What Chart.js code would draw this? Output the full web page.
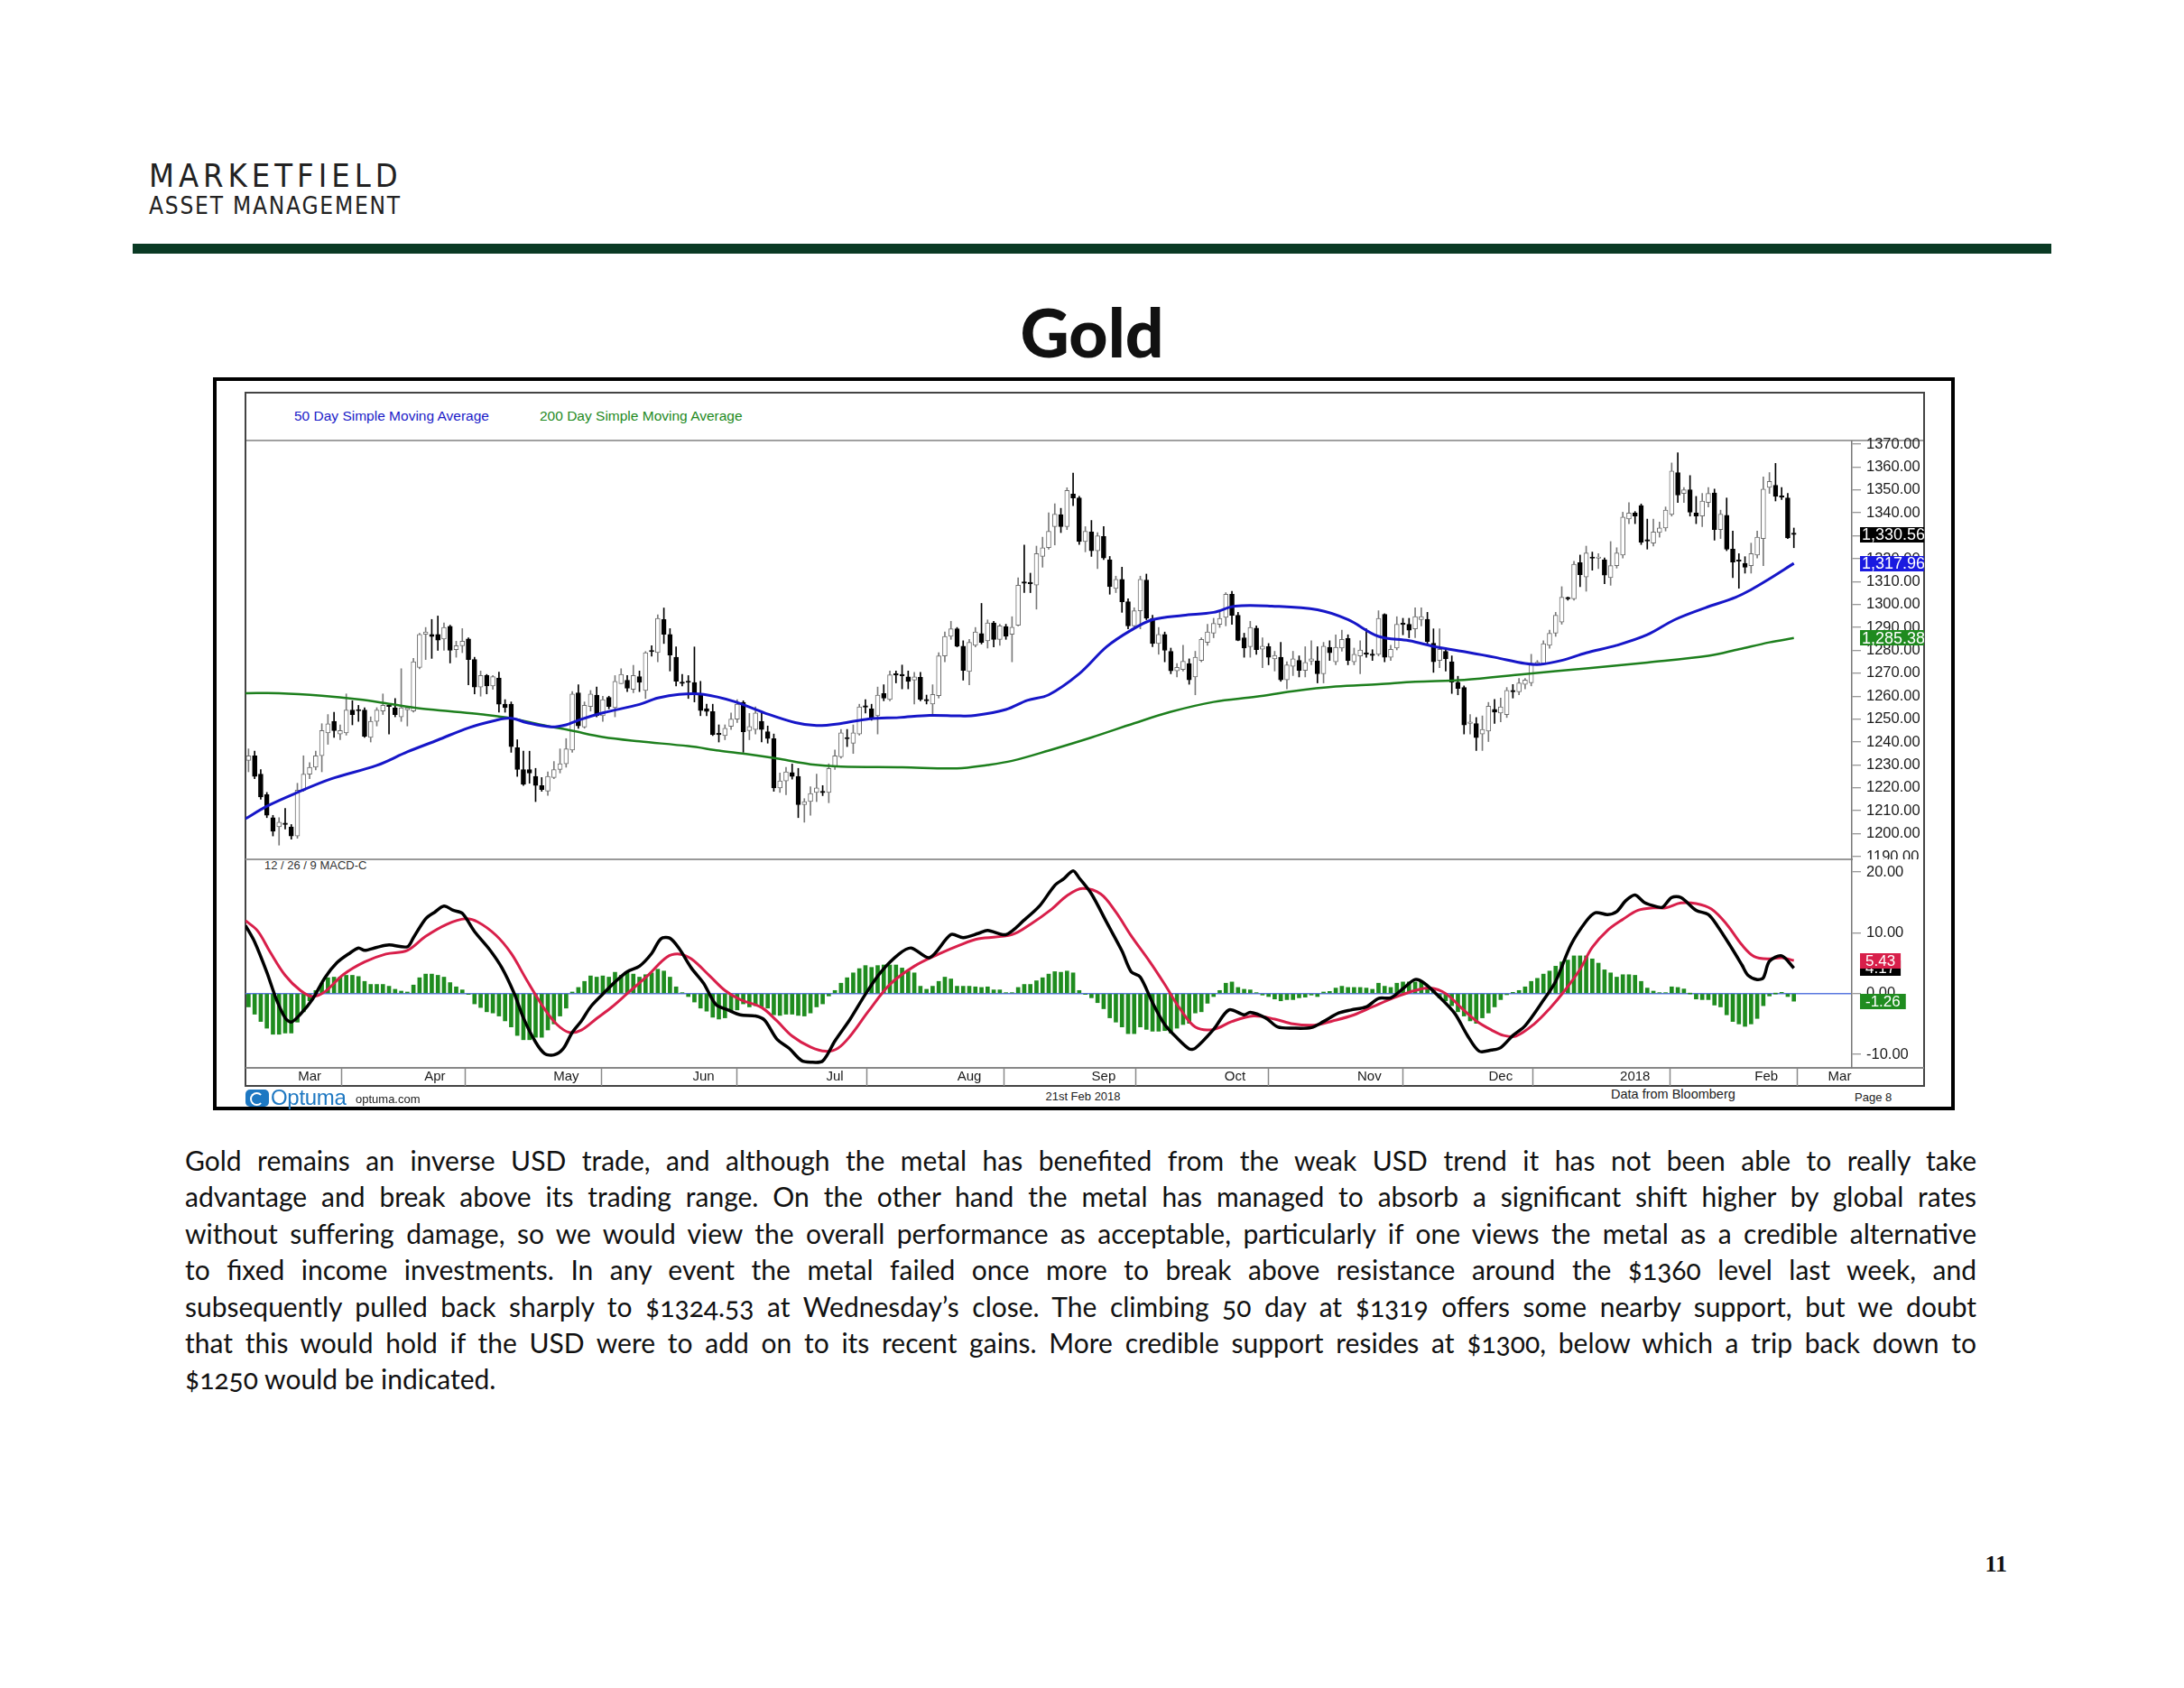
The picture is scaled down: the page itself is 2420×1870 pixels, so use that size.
<!DOCTYPE html>
<html>
<head>
<meta charset="utf-8">
<script src="https://cdn.jsdelivr.net/npm/chart.js@4.4.1/dist/chart.umd.min.js"></script>
<style>
  html, body { margin: 0; padding: 0; background: #fff; }
  body { width: 2420px; height: 1870px; position: relative; overflow: hidden; font-family: 'Liberation Sans', Arial, sans-serif; color: #111; }
  .abs { position: absolute; }
  .brand { left: 165px; top: 177px; font-family: 'Liberation Sans Narrow', 'DejaVu Sans Condensed', sans-serif; font-size: 36px; line-height: 36px; letter-spacing: 5px; color: #222; }
  .sub { left: 165px; top: 215px; font-family: 'Liberation Sans Narrow', 'DejaVu Sans Condensed', sans-serif; font-size: 26px; line-height: 26px; letter-spacing: 1.8px; color: #222; }
  .rule { left: 147px; top: 270px; width: 2126px; height: 11px; background: #0a3a24; }
  .title { left: 0; top: 330px; width: 2420px; text-align: center; font-family: Lato, 'Open Sans', sans-serif; font-weight: 900; font-size: 75px; line-height: 75px; color: #111; }
  .outer { left: 236px; top: 418px; width: 1930px; height: 812px; border: 4px solid #000; box-sizing: border-box; }
  .inner { left: 271px; top: 434px; width: 1862px; height: 770px; border: 2px solid #444; box-sizing: border-box; }
  .hline { height: 2px; background: #a0a0a0; }
  .legend { top: 452px; font-size: 15.5px; line-height: 18px; }
  .macdname { left: 293px; top: 951px; font-size: 13px; line-height: 15px; color: #333; }
  .foot { font-size: 13px; line-height: 15px; color: #222; }
  canvas { position: absolute; }
  .para { left: 205px; top: 1265px; width: 1985px; font-family: Lato, 'Open Sans', sans-serif; font-size: 30px; line-height: 40.4px; color: #111; font-variant-numeric: oldstyle-nums; }
  .para div { text-align: justify; text-align-last: justify; white-space: nowrap; }
  .para div.last { text-align-last: left; }
  .pageno { left: 2180px; top: 1720px; width: 44px; text-align: right; font-family: 'Liberation Serif', serif; font-weight: bold; font-size: 26px; line-height: 26px; }
</style>
</head>
<body>
<div class="abs brand">MARKETFIELD</div>
<div class="abs sub">ASSET MANAGEMENT</div>
<div class="abs rule"></div>
<div class="abs title">Gold</div>

<div class="abs outer"></div>
<div class="abs inner"></div>
<div class="abs legend" id="leg0" style="left:326px;color:#1c1cc8"></div>
<div class="abs legend" id="leg1" style="left:598px;color:#1e8a1e"></div>
<div class="abs hline" style="left:273px;top:487px;width:1858px;"></div>
<div class="abs hline" style="left:272px;top:951px;width:1781px;height:1.5px;background:#999"></div>
<div class="abs hline" style="left:272px;top:1182px;width:1860px;height:1.5px;background:#888"></div>
<div class="abs macdname">12 / 26 / 9 MACD-C</div>

<canvas id="priceChart" width="1860" height="482" style="left:272px;top:470px"></canvas>
<canvas id="macdChart" width="1860" height="251" style="left:272px;top:952px"></canvas>

<div class="abs" style="left:272px;top:1207px;width:26px;height:19px;background:#1e78c2;border-radius:5px"></div>
<div class="abs" style="left:277px;top:1210px;width:11px;height:11px;border:2.5px solid #fff;border-radius:50%;border-right-color:transparent"></div>
<div class="abs" style="left:300px;top:1203px;font-size:24px;line-height:26px;color:#1e78c2;letter-spacing:-0.3px">Optuma</div>
<div class="abs foot" style="left:394px;top:1210px">optuma.com</div>
<div class="abs foot" style="left:1100px;top:1207px;width:200px;text-align:center">21st Feb 2018</div>
<div class="abs foot" style="left:1785px;top:1204px;font-size:14.5px;line-height:17px">Data from Bloomberg</div>
<div class="abs foot" style="left:2055px;top:1208px">Page 8</div>

<div class="abs para">
  <div>Gold remains an inverse USD trade, and although the metal has benefited from the weak USD trend it has not been able to really take</div>
  <div>advantage and break above its trading range. On the other hand the metal has managed to absorb a significant shift higher by global rates</div>
  <div>without suffering damage, so we would view the overall performance as acceptable, particularly if one views the metal as a credible alternative</div>
  <div>to fixed income investments. In any event the metal failed once more to break above resistance around the $1360 level last week, and</div>
  <div>subsequently pulled back sharply to $1324.53 at Wednesday’s close. The climbing 50 day at $1319 offers some nearby support, but we doubt</div>
  <div>that this would hold if the USD were to add on to its recent gains. More credible support resides at $1300, below which a trip back down to</div>
  <div class="last">$1250 would be indicated.</div>
</div>
<div class="abs pageno">11</div>

<script>
// daily candles, one per weekday from startDate
const startDate = '2017-03-03';
const axisDays = 263;

const open = [
  1232, 1234, 1226, 1217, 1207, 1203, 1204.2, 1203, 1199, 1219,
  1226, 1229, 1234, 1244, 1249, 1243.5, 1244, 1254, 1254, 1254,
  1242, 1249, 1253.5, 1255.8, 1255, 1251, 1254, 1253.5, 1272.5, 1287,
  1287, 1287, 1285, 1290.5, 1280.3, 1282, 1285, 1276, 1264, 1269,
  1264.5, 1268, 1256.5, 1256.5, 1237.5, 1228, 1228, 1225, 1221, 1218.6,
  1224.5, 1228, 1230.5, 1236.5, 1261.5, 1246.5, 1255.5, 1260.5, 1251.5, 1259.5,
  1255, 1265.5, 1267, 1263, 1268.5, 1262.5, 1279.6, 1279, 1293.5, 1287,
  1277, 1266, 1266.4, 1266, 1261, 1254.6, 1253.3, 1243.5, 1242.8, 1246.8,
  1250, 1257.3, 1245, 1245.5, 1249, 1244.5, 1241.5, 1220, 1223, 1226.7,
  1225, 1212.7, 1214, 1218, 1218.1, 1218, 1229, 1233.5, 1241.6, 1239.5,
  1243.5, 1255.3, 1254.5, 1251.5, 1261.2, 1258.6, 1269.4, 1269.1, 1268.4, 1267,
  1268.2, 1258.6, 1256.6, 1260.2, 1277.6, 1286.1, 1289.4, 1281.8, 1270.8, 1282.2,
  1287.4, 1284.2, 1292, 1284.8, 1290.4, 1287, 1291, 1309.4, 1309.4, 1308.5,
  1321, 1324.8, 1334, 1339.3, 1334, 1348.2, 1346.5, 1327.5, 1331.7, 1323.5,
  1329.7, 1319.6, 1307, 1311, 1301.2, 1290.7, 1297.3, 1310.7, 1294, 1283,
  1287, 1279.6, 1271.1, 1271.7, 1274.3, 1268.4, 1275.6, 1283.5, 1287.5, 1291.4,
  1294.4, 1304.5, 1295.3, 1285.5, 1281.6, 1289.7, 1280.5, 1281.6, 1276.3, 1277,
  1267.1, 1273, 1275.6, 1271.3, 1275.3, 1275.3, 1269.8, 1281.3, 1275, 1281,
  1285.2, 1275, 1277.6, 1278.4, 1277.9, 1278.3, 1295.7, 1277, 1281, 1291.4,
  1291.4, 1289.4, 1293.4, 1293.6, 1283.1, 1275.6, 1279.6, 1275, 1266.1, 1263.8,
  1248.1, 1248.1, 1243.5, 1244.8, 1254.3, 1252.7, 1252, 1262, 1261.9, 1265.2,
  1265.8, 1274.3, 1274.3, 1282.2, 1287.5, 1292.3, 1302.6, 1302.5, 1318.3, 1312,
  1320.3, 1320.2, 1319.6, 1311.7, 1317, 1321.6, 1337.4, 1339.9, 1343.2, 1327.8,
  1326.8, 1331.4, 1333.4, 1339.3, 1357.6, 1348.5, 1350.1, 1339.9, 1338.6, 1344.5,
  1348.7, 1332.7, 1339, 1324.2, 1319, 1318, 1317, 1321.6, 1328.8, 1351.1,
  1352.1, 1347.4, 1346.5, 1330.8
];
const high = [
  1237, 1236, 1228, 1218, 1208, 1207, 1211, 1204, 1222, 1234,
  1231, 1236, 1248, 1252, 1253, 1247.5, 1261, 1258, 1256, 1255,
  1251, 1255, 1261, 1256, 1259, 1272, 1255.5, 1276.5, 1287.5, 1290,
  1293.5, 1295, 1292, 1291, 1284, 1289.5, 1285.5, 1277, 1271, 1269.5,
  1269, 1270.5, 1258.5, 1257.5, 1241, 1236, 1236, 1228.5, 1224.5, 1227,
  1231.5, 1237, 1241.5, 1262, 1265, 1257.5, 1262.5, 1264, 1260, 1260,
  1269, 1272, 1269, 1273.5, 1271, 1279.5, 1282, 1295.5, 1298.5, 1289.5,
  1281.5, 1269.5, 1269, 1281.5, 1266.5, 1256.5, 1256.5, 1247.5, 1247.5, 1252.7,
  1258.5, 1258, 1252.5, 1255.3, 1252.7, 1247, 1243.5, 1226.5, 1229, 1230.4,
  1228.5, 1215.3, 1220.5, 1226, 1221, 1230.5, 1236.5, 1245.5, 1245.5, 1247.5,
  1256.5, 1258.5, 1256.5, 1264, 1265, 1271, 1271, 1273.6, 1271, 1270.4,
  1270.4, 1260.5, 1265, 1279, 1288, 1292.7, 1290, 1284.2, 1284.8, 1290,
  1300.5, 1293.3, 1292.7, 1291.4, 1291.4, 1294.7, 1311.7, 1326, 1313.7, 1325.5,
  1329.4, 1340, 1344, 1342, 1351, 1357.4, 1347.2, 1334, 1336.7, 1331.4,
  1334, 1321, 1312.4, 1316.3, 1302.5, 1298.6, 1312.4, 1313.3, 1295.3, 1290,
  1288, 1281, 1274.3, 1282.2, 1276.3, 1279.6, 1285.5, 1291.4, 1294, 1296.6,
  1305.2, 1305.8, 1296.6, 1287.5, 1292.7, 1290.7, 1285.5, 1283, 1279.6, 1283.5,
  1275, 1279.6, 1277.6, 1281.6, 1284.2, 1281.6, 1283.5, 1284.2, 1286.8, 1288.8,
  1286.8, 1281, 1284.2, 1289.4, 1280.3, 1297.3, 1296, 1282.2, 1294.7, 1294,
  1294, 1298.6, 1298.6, 1296.6, 1289.4, 1289.4, 1281, 1277.6, 1268.7, 1264.5,
  1252, 1250.7, 1251.4, 1257.3, 1258.6, 1259.2, 1263.8, 1265.1, 1267.8, 1267.8,
  1278.3, 1275.6, 1284.2, 1288.8, 1296.6, 1307.8, 1303.3, 1318.9, 1321.6, 1325.5,
  1322.9, 1322.2, 1320.3, 1327.5, 1324.8, 1340.3, 1344.5, 1340.6, 1343.9, 1337.3,
  1337.3, 1336, 1342.6, 1361.8, 1366.2, 1351.1, 1356.3, 1347.2, 1348.5, 1351.1,
  1350.4, 1341.2, 1346.5, 1332.1, 1322.2, 1320.9, 1326.8, 1332.1, 1355.7, 1357.6,
  1361.6, 1351.1, 1348.5, 1333.4
];
const low = [
  1227, 1224, 1215, 1207, 1199, 1195, 1202, 1197.6, 1198, 1218.5,
  1224, 1227.8, 1227, 1239, 1242, 1241, 1243, 1247.5, 1249, 1242,
  1240, 1247, 1252, 1243.5, 1251, 1249, 1247, 1253, 1272, 1276,
  1276.5, 1280, 1280, 1274.5, 1277, 1279, 1265, 1261, 1260, 1261,
  1263, 1253, 1253, 1235.5, 1225, 1221, 1222, 1214, 1218.5, 1216.7,
  1224, 1226.5, 1229, 1235.5, 1246, 1246, 1253.5, 1251, 1249, 1254.5,
  1251, 1265.5, 1262, 1261.5, 1262, 1259, 1277.5, 1275, 1283, 1271,
  1264.5, 1264.5, 1259, 1257.5, 1251.5, 1251.5, 1242.8, 1240, 1241, 1245.5,
  1248.5, 1235.5, 1241, 1243.5, 1240, 1239.5, 1218.5, 1218, 1217, 1223.8,
  1207, 1205, 1208, 1214, 1216.6, 1213.5, 1228, 1233, 1238, 1235,
  1243, 1252.7, 1249.5, 1243.5, 1258, 1258, 1265.8, 1263.2, 1263.2, 1256.6,
  1258, 1256.6, 1252, 1259.2, 1275, 1284.8, 1281.5, 1267, 1265, 1281.5,
  1282.8, 1281, 1281.5, 1282.2, 1284.8, 1275, 1290.7, 1305.2, 1305.2, 1298,
  1316.3, 1324.2, 1326, 1331.4, 1332.7, 1343.2, 1326.2, 1323, 1321, 1315.7,
  1319.6, 1304.5, 1305.2, 1296.6, 1289.4, 1289.4, 1289.4, 1293.4, 1281.6, 1278.3,
  1275, 1269.8, 1268.4, 1271, 1265.2, 1260.6, 1275, 1282.2, 1285.5, 1290,
  1290.7, 1291.4, 1284.2, 1277, 1277, 1278.3, 1272.4, 1273.7, 1271, 1266.5,
  1263.2, 1269, 1268.4, 1268.4, 1273.7, 1265.8, 1265.8, 1275.6, 1273.7, 1279.6,
  1273.7, 1273.7, 1269.8, 1277, 1275.6, 1277.6, 1275, 1275.6, 1280.2, 1286.8,
  1285.5, 1285.5, 1290.7, 1282.9, 1270.4, 1272.4, 1271, 1261.2, 1260.6, 1243.5,
  1243.5, 1236.3, 1236.3, 1240.2, 1248.1, 1248.8, 1250.7, 1259.2, 1260.6, 1263.2,
  1264.5, 1273.7, 1273.7, 1280.9, 1286.1, 1291.4, 1301.9, 1301.9, 1307.8, 1305.8,
  1315, 1315.7, 1309.1, 1308.4, 1315.9, 1320.3, 1335.3, 1335.3, 1326.2, 1324.2,
  1325.5, 1329.4, 1332.1, 1338.6, 1344.5, 1344.5, 1338.6, 1335.3, 1334, 1342.6,
  1328.1, 1328.8, 1323.5, 1311.7, 1307.1, 1313.7, 1313.7, 1320.3, 1317, 1348.5,
  1345.2, 1345.8, 1328.8, 1324.8
];
const close = [
  1234, 1225, 1216, 1208, 1201, 1205, 1204, 1199, 1219, 1226,
  1229, 1234, 1245, 1248, 1245, 1245, 1254, 1252, 1253.6, 1242.5,
  1249, 1254, 1256, 1255.5, 1252, 1255, 1255, 1275, 1287, 1288,
  1286, 1284.5, 1290, 1280, 1282, 1284, 1276, 1264, 1269, 1264.5,
  1268.5, 1256.5, 1255, 1238, 1228, 1221.5, 1226.5, 1221, 1219.3, 1225,
  1228, 1230.5, 1237, 1261, 1247, 1256, 1261, 1251.5, 1258.5, 1255.5,
  1266.5, 1269.5, 1263.5, 1269, 1266, 1279, 1279.4, 1294, 1287, 1278,
  1266.5, 1265.6, 1266, 1261, 1253.7, 1253.3, 1243.2, 1243.2, 1246, 1250,
  1256.5, 1244.5, 1246.8, 1252.7, 1245.5, 1241.5, 1220, 1223, 1227, 1225,
  1212.7, 1214, 1217.5, 1220, 1217.9, 1228.5, 1234, 1244, 1241.4, 1244,
  1255.3, 1255.2, 1250, 1260.5, 1259.2, 1269.3, 1269.2, 1268.9, 1266.4, 1268.4,
  1258.6, 1258, 1260.8, 1277.6, 1286.1, 1289.4, 1281.8, 1271.3, 1283.5, 1288,
  1283.5, 1292, 1284.8, 1290.7, 1286.1, 1290.1, 1308.4, 1309.3, 1309.1, 1322.2,
  1324.8, 1332, 1339.5, 1334, 1349.8, 1346.5, 1327.5, 1332, 1323.5, 1330,
  1320.3, 1307.8, 1311, 1301.2, 1290.7, 1297.3, 1311, 1294, 1283, 1287,
  1280, 1271.1, 1272.6, 1275.2, 1267.1, 1277, 1284.8, 1288, 1291.8, 1294,
  1304.5, 1295.3, 1284.4, 1281, 1290, 1280.3, 1281.8, 1277, 1277.8, 1267.1,
  1273.7, 1276.3, 1271.3, 1274.7, 1276.3, 1269.8, 1281.8, 1278.9, 1281.3, 1284.8,
  1275.6, 1278.3, 1280.2, 1278.3, 1277.8, 1294, 1277, 1280.5, 1291.4, 1291.3,
  1288.8, 1294.7, 1294.7, 1283.9, 1275, 1280.5, 1276.3, 1266.1, 1263.4, 1247.4,
  1248.7, 1241.9, 1245.5, 1255.6, 1253, 1255.3, 1262.5, 1261.9, 1265.8, 1267.1,
  1274.3, 1274.4, 1282.9, 1287.5, 1295.3, 1303.2, 1302.5, 1317.6, 1313, 1322.5,
  1320.2, 1320.3, 1312.8, 1317, 1322.5, 1338.2, 1339.9, 1338.6, 1327.2, 1327.7,
  1331.7, 1333.4, 1341.2, 1358.3, 1347.8, 1350.1, 1340.3, 1338.6, 1345.2, 1348.5,
  1332.7, 1339.5, 1324.2, 1318.5, 1318.9, 1316.3, 1322.2, 1329.4, 1350.4, 1353.7,
  1347.2, 1346.8, 1329.1, 1330.56
];

// moving averages (day index, value)
const sma50Idx = [-0.5, 3, 8, 13.5, 21, 26, 31, 36, 40.5, 43, 45.5, 49.5, 52, 54, 58, 64, 67, 70.5, 74.5, 79.5,
  84.5, 89.5, 93, 97, 101.5, 106.5, 111.5, 116.5, 119, 124, 127.5, 131, 136, 140.5, 144.5, 148, 153, 158, 161.5, 167.5,
  175, 180, 185, 190, 194.5, 199.5, 204, 209, 211.5, 215, 219, 224, 229, 233.5, 238.5, 243.5, 246, 248.5, 253];
const sma50 = [1206.5, 1212, 1218, 1223.9, 1229.8, 1235.7, 1240.9, 1246.2, 1249.5, 1250.4, 1248.5, 1246.6, 1247.5, 1249.5, 1252.7, 1256.4, 1259.2, 1260.8, 1260.8, 1257.7,
  1252.7, 1248.5, 1247.2, 1248.1, 1250.1, 1250.7, 1251.6, 1251.4, 1251.6, 1254.2, 1258.2, 1260.6, 1269.8, 1281.6, 1288.8, 1293.4, 1295.3, 1296.6, 1299.3, 1299.3,
  1297.7, 1293.4, 1286.1, 1284.2, 1281.5, 1279.2, 1277, 1274.3, 1273.9, 1275.6, 1278.9, 1282.2, 1286.8, 1293.4, 1298.6, 1303.2, 1306.5, 1310.4, 1317.96];
const sma200Idx = [-0.5, 5, 12, 18, 23, 28, 33, 38, 43, 48, 53, 58, 64, 72, 77, 82, 87, 92, 97, 107,
  116, 121, 125, 131, 138, 145, 151, 158, 165, 171, 178, 185, 191, 199, 209, 219, 229, 239, 244, 249, 253];
const sma200 = [1261.3, 1261.3, 1260.2, 1258.6, 1256.7, 1254.7, 1253.4, 1252.1, 1250.4, 1247.5, 1244.9, 1242.2, 1240.3, 1238.2, 1236.3, 1234.6, 1232.6, 1230.3, 1229.3, 1229,
  1228.5, 1230, 1231.8, 1236.3, 1242, 1248.2, 1253.2, 1257.5, 1259.8, 1262.2, 1264.2, 1265.2, 1266.3, 1267.1, 1269.7, 1272.1, 1274.7, 1277.6, 1280.5, 1283.5, 1285.38];

// MACD 12/26/9 panel
const macdIdx = [
  -0.5, 1, 3, 4.5, 6, 7, 8.5, 10.5, 12.5, 14.5,
  16.5, 18, 19, 21, 23, 26, 27, 29, 30.5, 32,
  33.5, 35, 37, 39.5, 41.5, 43.5, 45, 47, 48.5, 50,
  51.5, 53, 54.5, 56, 58, 60, 62, 64, 66, 67.5,
  69, 70.5, 72.5, 74.5, 76.5, 78.5, 80.5, 83, 84.5, 86.5,
  88.5, 90.5, 92, 94, 96, 98.5, 101, 103.5, 106.5, 108.5,
  111.5, 115, 117, 119.5, 121, 124, 127, 129.5, 132, 133.5,
  135, 136, 138, 140.5, 143, 144.5, 146, 148, 150, 152,
  154, 155, 158, 160.5, 163, 164, 166.5, 168.5, 171, 174,
  176, 178.5, 180.5, 183, 185, 187, 189, 191, 192.5, 195,
  197.5, 199.5, 201.5, 203.5, 205, 207, 209, 212, 214, 216.5,
  219, 220.5, 222.5, 224, 225.5, 227, 228.5, 230.5, 231.5, 233,
  234.5, 237, 239, 240.5, 242.5, 244.5, 245.5, 247, 248, 249,
  251, 253
];
const macd = [
  11.2, 8.5, 3.5, -0.8, -4.0, -4.7, -3.4, -0.9, 2.6, 5.1,
  6.6, 7.5, 7.1, 7.6, 8.0, 7.7, 9.2, 12.3, 13.4, 14.4,
  13.7, 13.2, 10.2, 7.2, 4.2, 0.0, -4.0, -8.0, -9.9, -10.1,
  -9.1, -6.4, -4.5, -2.2, -0.1, 1.9, 3.6, 4.5, 6.6, 9.0,
  9.1, 7.4, 4.2, 1.7, -1.8, -2.7, -3.5, -3.7, -4.4, -7.5,
  -9.0, -11.0, -11.3, -11.1, -7.8, -4.2, -0.1, 3.5, 6.5, 7.5,
  5.9, 9.7, 9.2, 9.9, 10.4, 9.7, 12.1, 14.4, 17.8, 18.9,
  20.2, 19.0, 16.4, 11.7, 7.0, 3.6, 2.7, -1.5, -5.1, -7.3,
  -9.1, -9.0, -5.9, -2.7, -3.5, -3.1, -4.0, -5.5, -5.7, -5.6,
  -4.6, -3.2, -2.7, -2.2, -0.8, -0.7, 0.8, 2.3, 1.7, -0.6,
  -3.3, -6.8, -9.5, -9.3, -8.9, -6.9, -5.3, -1.1, 2.0, 8.0,
  11.9, 13.3, 13.0, 13.5, 15.3, 16.2, 15.0, 14.3, 14.2, 15.8,
  15.8, 13.7, 13.0, 11.1, 8.0, 4.7, 3.0, 2.3, 2.6, 5.3,
  6.2, 4.17
];
const signalIdx = [
  -0.5, 1.5, 3.5, 6, 8.5, 10.5, 12.5, 15.5, 19, 22.5,
  26, 29, 32.5, 35.5, 37.5, 40.5, 43, 45.5, 48.5, 50.5,
  52.5, 54.5, 57, 59.5, 62, 65.5, 68.5, 70.5, 72.5, 75.5,
  78, 80.5, 84, 86.5, 89, 92, 94.5, 96.5, 98.5, 101.5,
  105, 109, 113, 116.5, 119.5, 125, 128, 131.5, 134, 136.5,
  139.5, 142, 144.5, 147.5, 150, 152.5, 155, 158, 161, 164.5,
  168, 171, 174.5, 177.5, 181, 184, 187.5, 191, 193.5, 196,
  198.5, 201, 203.5, 205.5, 207.5, 210.5, 213, 215.5, 218, 220,
  222.5, 225, 227.5, 230, 232, 234.5, 237, 239.5, 242, 244.5,
  246.5, 249, 251, 253
];
const signal = [
  12.0, 10.3, 6.9, 3.0, 0.5, -0.5, 0.3, 3.1, 5.2, 6.5,
  7.1, 9.4, 11.4, 12.3, 11.8, 9.6, 6.6, 2.3, -2.6, -5.1,
  -6.4, -6.0, -4.1, -2.2, 0.0, 3.1, 6.0, 6.5, 5.7, 2.9,
  0.5, -1.0, -2.3, -4.5, -7.0, -8.8, -9.5, -9.0, -7.0, -2.9,
  1.5, 4.5, 6.5, 8.0, 9.0, 9.7, 11.4, 13.9, 16.1, 17.3,
  16.4, 13.4, 9.5, 5.3, 1.5, -2.5, -5.5, -5.9, -4.6, -3.7,
  -4.2, -5.0, -5.2, -4.5, -3.5, -2.2, -0.7, 0.5, 0.9, 0.0,
  -2.3, -4.5, -6.0, -6.9, -7.0, -5.0, -2.5, 0.5, 4.0, 7.6,
  10.4, 12.2, 13.7, 14.1, 14.1, 14.9, 14.8, 13.9, 11.4, 8.0,
  6.1, 5.7, 5.9, 5.43
];
const hist = [
  -2.2, -3.4, -4.6, -5.7, -6.7, -6.7, -6.5, -6.5, -4.7, -3.0,
  -1.2, 0.5, 1.7, 2.6, 2.7, 2.7, 3.0, 3.0, 2.8, 2.0,
  1.5, 1.5, 1.5, 1.2, 0.7, 0.4, 0.25, 1.4, 2.6, 3.2,
  3.2, 3.0, 2.7, 1.8, 1.1, 0.6, -0.1, -1.7, -2.3, -3.0,
  -3.2, -3.7, -4.5, -5.5, -6.9, -7.6, -7.6, -7.2, -7.2, -6.0,
  -5.0, -3.7, -2.4, 0.25, 1.0, 2.0, 2.9, 2.7, 2.9, 2.7,
  3.5, 3.0, 3.6, 3.2, 2.7, 3.1, 3.4, 4.0, 3.7, 2.7,
  1.1, 0.05, -0.5, -1.4, -2.4, -2.9, -3.9, -4.2, -4.0, -3.0,
  -2.7, -1.7, -2.2, -2.0, -2.2, -2.4, -3.5, -3.6, -3.4, -3.4,
  -3.6, -3.7, -3.2, -2.2, -1.7, -0.4, 0.5, 1.7, 2.6, 3.4,
  4.1, 4.6, 4.3, 4.6, 4.7, 4.7, 4.7, 4.2, 3.7, 3.4,
  1.2, 0.7, 1.2, 2.0, 2.7, 2.4, 1.2, 1.2, 1.2, 1.1,
  1.0, 1.1, 0.6, 0.6, 0.05, 0.05, 1.0, 1.5, 1.5, 2.1,
  2.6, 3.2, 3.6, 3.5, 3.7, 3.4, 0.5, -0.1, -0.7, -1.5,
  -2.5, -4.0, -4.7, -5.5, -6.6, -6.6, -5.5, -5.9, -6.2, -6.2,
  -6.1, -6.5, -5.7, -5.1, -4.9, -3.2, -3.0, -1.6, -0.5, 0.5,
  1.7, 1.9, 1.0, 0.7, 0.6, 0.1, -0.25, -0.5, -0.9, -1.2,
  -1.0, -1.0, -0.7, -0.6, -0.25, -0.5, 0.25, 0.35, 0.9, 1.2,
  1.0, 1.0, 1.0, 0.9, 0.7, 1.7, 1.2, 1.0, 1.7, 1.9,
  1.9, 1.9, 2.0, 1.0, 0.5, -0.7, -1.2, -2.0, -3.0, -3.7,
  -4.5, -4.9, -4.0, -3.2, -2.2, -1.0, -0.2, 0.2, 0.5, 1.1,
  2.0, 2.5, 3.2, 3.7, 4.5, 5.2, 5.5, 6.2, 6.2, 6.2,
  5.7, 5.0, 3.9, 3.4, 2.7, 3.1, 3.1, 3.0, 2.0, 0.9,
  0.4, 0.1, 0.1, 1.1, 1.0, 0.75, 0, -0.9, -1.0, -1.0,
  -1.9, -2.2, -3.5, -4.6, -5.0, -5.4, -5.0, -4.1, -2.0, -0.4,
  0.0, 0.2, -0.5, -1.26
];

const priceTicks = [1370, 1360, 1350, 1340, 1330, 1320, 1310, 1300, 1290, 1280, 1270, 1260, 1250, 1240, 1230, 1220, 1210, 1200, 1190];
const macdTicks = [20, 10, 0, -10];
const monthLabels = ['Mar', 'Apr', 'May', 'Jun', 'Jul', 'Aug', 'Sep', 'Oct', 'Nov', 'Dec', '2018', 'Feb', 'Mar'];
const legendLabels = ['50 Day Simple Moving Average', '200 Day Simple Moving Average'];

document.getElementById('leg0').textContent = legendLabels[0];
document.getElementById('leg1').textContent = legendLabels[1];

Chart.defaults.font.family = "'Liberation Sans', Arial, sans-serif";
Chart.defaults.color = '#1a1a1a';

// weekday calendar for the x axis
function weekdays(start, n) {
    const out = [];
    const d = new Date(start + 'T00:00:00Z');
    while (out.length < n) {
        const wd = d.getUTCDay();
        if (wd !== 0 && wd !== 6) out.push(new Date(d));
        d.setUTCDate(d.getUTCDate() + 1);
    }
    return out;
}

const days = weekdays(startDate, axisDays);
const xMin = -0.5, xMax = axisDays - 0.5;
const monthEdges = [];
for (let i = 1; i < days.length; i++) {
    if (days[i].getUTCMonth() !== days[i - 1].getUTCMonth()) monthEdges.push(i - 0.5);
}
const bounds = [xMin, ...monthEdges, xMax];
const xTicks = [];
monthLabels.forEach((label, k) => {
    xTicks.push({ value: (bounds[k] + bounds[k + 1]) / 2, label: label, edge: false });
});
monthEdges.forEach(v => xTicks.push({ value: v, label: '', edge: true }));
xTicks.sort((a, b) => a.value - b.value);

const idx = close.map((_, i) => i);
const up = idx.map(i => close[i] >= open[i]);

const valueTags = {
    id: 'valueTags',
    afterDraw(chart, args, opts) {
        const { ctx, chartArea } = chart;
        const scale = chart.scales.y;
        ctx.save();
        ctx.font = opts.font;
        ctx.textBaseline = 'middle';
        opts.tags.forEach(t => {
            const py = scale.getPixelForValue(t.value);
            const text = opts.format(t.value);
            const x = chartArea.right + 9;
            const w = opts.fullWidth ? chart.width - x : ctx.measureText(text).width + 12;
            ctx.fillStyle = t.bg;
            ctx.fillRect(x, Math.round(py - 8.5), w, 17);
            ctx.fillStyle = '#ffffff';
            ctx.fillText(text, x + (opts.fullWidth ? 2 : 6), py + 1);
        });
        ctx.restore();
    }
};

function rightAxis(min, max, ticks, gridColor) {
    return {
        type: 'linear',
        position: 'right',
        min: min,
        max: max,
        afterBuildTicks: s => { s.ticks = ticks.map(v => ({ value: v })); },
        afterFit: s => { s.width = 80; s.paddingTop = 0; s.paddingBottom = 0; },
        ticks: { callback: v => v.toFixed(2), font: { size: 16.5 }, padding: 6, autoSkip: false, color: '#1a1a1a' },
        grid: { drawOnChartArea: !!gridColor, color: gridColor || 'rgba(0,0,0,0)', lineWidth: 1.5, tickLength: 10, tickColor: '#777', tickWidth: 1 },
        border: { display: true, color: '#777', width: 1.5 }
    };
}

const priceChart = new Chart(document.getElementById('priceChart'), {
    type: 'bar',
    data: {
        datasets: [
            {
                type: 'line', label: legendLabels[0],
                data: sma50Idx.map((x, k) => ({ x: x, y: sma50[k] })),
                borderColor: '#1616c8', borderWidth: 3, pointRadius: 0, tension: 0.35, order: 0
            },
            {
                type: 'line', label: legendLabels[1],
                data: sma200Idx.map((x, k) => ({ x: x, y: sma200[k] })),
                borderColor: '#1d7f1d', borderWidth: 2.5, pointRadius: 0, tension: 0.35, order: 0
            },
            {
                label: 'Body',
                data: idx.map(i => ({ x: i, y: [Math.min(open[i], close[i]), Math.max(open[i], close[i])] })),
                backgroundColor: idx.map(i => up[i] ? '#ffffff' : '#000000'),
                borderColor: idx.map(i => up[i] ? '#6e6e6e' : '#000000'),
                borderWidth: 1, borderSkipped: false, barThickness: 5, minBarLength: 1.5,
                grouped: false, order: 1
            },
            {
                label: 'Range',
                data: idx.map(i => ({ x: i, y: [low[i], high[i]] })),
                backgroundColor: idx.map(i => up[i] ? '#7a7a7a' : '#000000'),
                barThickness: 1, grouped: false, order: 2
            }
        ]
    },
    options: {
        responsive: false,
        animation: false,
        events: [],
        layout: { padding: { top: 19, left: 0, right: 0, bottom: 0 }, autoPadding: false },
        plugins: {
            legend: { display: false },
            tooltip: { enabled: false },
            valueTags: {
                fullWidth: true,
                font: "18px 'Liberation Sans', Arial, sans-serif",
                format: v => v.toLocaleString('en-US', { minimumFractionDigits: 2, maximumFractionDigits: 2 }),
                tags: [
                    { value: close[close.length - 1], bg: '#000000' },
                    { value: sma50[sma50.length - 1], bg: '#1a1ae0' },
                    { value: sma200[sma200.length - 1], bg: '#1f8a1f' }
                ]
            }
        },
        scales: {
            x: { type: 'linear', min: xMin, max: xMax, display: false, offset: false },
            y: rightAxis(1188.8, 1371.2, priceTicks)
        }
    },
    plugins: [valueTags]
});

const macdChart = new Chart(document.getElementById('macdChart'), {
    type: 'bar',
    data: {
        datasets: [
            {
                type: 'line', label: 'Signal',
                data: signalIdx.map((x, k) => ({ x: x, y: signal[k] })),
                borderColor: '#d81f4a', borderWidth: 3, pointRadius: 0, tension: 0.35, order: 1
            },
            {
                type: 'line', label: 'MACD',
                data: macdIdx.map((x, k) => ({ x: x, y: macd[k] })),
                borderColor: '#000000', borderWidth: 3.5, pointRadius: 0, tension: 0.3, order: 0
            },
            {
                label: 'Histogram',
                data: idx.map(i => ({ x: i, y: hist[i] })),
                backgroundColor: '#1f8c1f', barThickness: 4, minBarLength: 1, order: 2
            }
        ]
    },
    options: {
        responsive: false,
        animation: false,
        events: [],
        layout: { padding: 0, autoPadding: false },
        plugins: {
            legend: { display: false },
            tooltip: { enabled: false },
            valueTags: {
                fullWidth: false,
                font: "17px 'Liberation Sans', Arial, sans-serif",
                format: v => v.toFixed(2),
                tags: [
                    { value: macd[macd.length - 1], bg: '#000000' },
                    { value: signal[signal.length - 1], bg: '#d81f4a' },
                    { value: hist[hist.length - 1], bg: '#1f8c1f' }
                ]
            }
        },
        scales: {
            x: {
                type: 'linear', min: xMin, max: xMax, position: 'bottom', offset: false,
                afterBuildTicks: s => { s.ticks = xTicks.map(t => ({ value: t.value })); },
                afterFit: s => { s.height = 20; s.paddingLeft = 0; s.paddingRight = 0; },
                ticks: {
                    autoSkip: false, maxRotation: 0, padding: -19, font: { size: 15 }, color: '#1a1a1a',
                    callback: (v, i) => xTicks[i] ? xTicks[i].label : ''
                },
                grid: {
                    drawOnChartArea: false, tickLength: 20, tickWidth: 1.5,
                    tickColor: ctx => (xTicks[ctx.index] && xTicks[ctx.index].edge) ? '#8a8a8a' : 'rgba(0,0,0,0)'
                },
                border: { display: true, color: '#888', width: 1.5 }
            },
            y: rightAxis(-12.23, 22.08, macdTicks, ctx => (ctx.tick && ctx.tick.value === 0) ? '#5a78e0' : 'rgba(0,0,0,0)')
        }
    },
    plugins: [valueTags]
});
</script>
</body>
</html>
